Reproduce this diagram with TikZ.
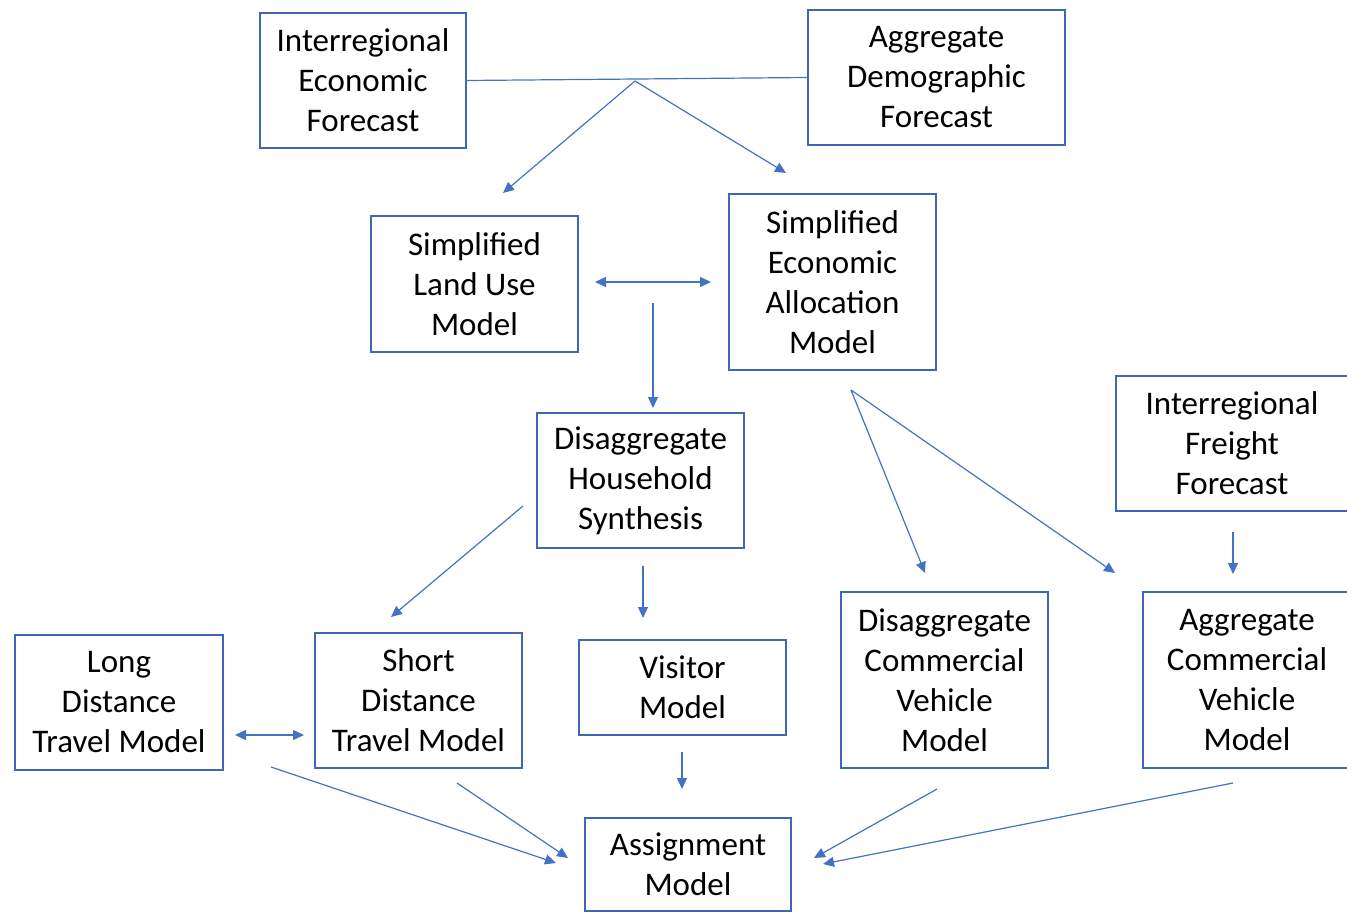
\documentclass[tikz,border=0pt]{standalone}
\usepackage{fontspec}
\setmainfont{Carlito}
\usetikzlibrary{arrows.meta}
\definecolor{lnblue}{HTML}{4472C4}
\definecolor{bxblue}{HTML}{3F67B5}
\begin{document}
\begin{tikzpicture}[x=1pt,y=-1pt,
  box/.style={draw=bxblue, line width=1.3pt, align=center, inner sep=0pt, text=black,
    font=\fontsize{33}{40}\selectfont},
  conn/.style={draw=lnblue, line width=1.2pt},
  arr/.style={conn, -{Triangle[length=11pt,width=10pt]}},
  darr/.style={conn, {Triangle[length=11pt,width=10pt]}-{Triangle[length=11pt,width=10pt]}}]
\useasboundingbox (0,0) rectangle (1347,913);
\clip (0,0) rectangle (1347,913);
% boxes
\node[box, minimum width=206pt, minimum height=135pt] (ief) at (363,80.5) {Interregional\\Economic\\Forecast};
\node[box, minimum width=257pt, minimum height=135pt] (adf) at (936.5,77.5) {Aggregate\\Demographic\\Forecast};
\node[box, minimum width=207pt, minimum height=136pt] (slu) at (474.5,284) {Simplified\\Land Use\\Model};
\node[box, minimum width=207pt, minimum height=176pt] (sea) at (832.5,282) {Simplified\\Economic\\Allocation\\Model};
\node[box, minimum width=207pt, minimum height=135pt] (dhs) at (640.5,480.5) {Disaggregate\\Household\\Synthesis};
\node[box, minimum width=232pt, minimum height=135pt] (iff) at (1232,443.5) {Interregional\\Freight\\Forecast};
\node[box, minimum width=208pt, minimum height=135pt] (ldt) at (119,702.5) {Long\\Distance\\Travel Model};
\node[box, minimum width=207pt, minimum height=135pt] (sdt) at (418.5,700.5) {Short\\Distance\\Travel Model};
\node[box, minimum width=207pt, minimum height=95pt] (vis) at (682.5,687.5) {Visitor\\Model};
\node[box, minimum width=207pt, minimum height=176pt] (dcv) at (944.5,680) {Disaggregate\\Commercial\\Vehicle\\Model};
\node[box, minimum width=208pt, minimum height=176pt] (acv) at (1247,680) {Aggregate\\Commercial\\Vehicle\\Model};
\node[box, minimum width=206pt, minimum height=93pt] (asg) at (688,864.5) {Assignment\\Model};
% connector end points
\coordinate (j) at (635,81);
\coordinate (j1) at (503,193);
\coordinate (j2) at (786,173);
\coordinate (h1) at (595,282);
\coordinate (h2) at (711,282);
\coordinate (d1) at (653,303);
\coordinate (d2) at (653,408);
\coordinate (s) at (851,390);
\coordinate (s1) at (925,573);
\coordinate (s2) at (1115,573);
\coordinate (f1) at (1233,532);
\coordinate (f2) at (1233,574);
\coordinate (h3) at (523,506);
\coordinate (h4) at (391,617);
\coordinate (h5) at (643,566);
\coordinate (h6) at (643,618);
\coordinate (l1) at (235,735);
\coordinate (l2) at (304,735);
\coordinate (a1) at (271,767);
\coordinate (a2) at (556,863);
\coordinate (b1) at (457,783);
\coordinate (b2) at (568,858);
\coordinate (c1) at (682,752);
\coordinate (c2) at (682,789);
\coordinate (e1) at (937,789);
\coordinate (e2) at (814,858);
\coordinate (g1) at (1233,783);
\coordinate (g2) at (823,864);
% connectors
\draw[conn] (ief.east) -- (adf.west);
\draw[arr] (j) -- (j1);
\draw[arr] (j) -- (j2);
\draw[darr] (h1) -- (h2);
\draw[arr] (d1) -- (d2);
\draw[arr] (s) -- (s1);
\draw[arr] (s) -- (s2);
\draw[arr] (f1) -- (f2);
\draw[arr] (h3) -- (h4);
\draw[arr] (h5) -- (h6);
\draw[darr] (l1) -- (l2);
\draw[arr] (a1) -- (a2);
\draw[arr] (b1) -- (b2);
\draw[arr] (c1) -- (c2);
\draw[arr] (e1) -- (e2);
\draw[arr] (g1) -- (g2);
\end{tikzpicture}
\end{document}
